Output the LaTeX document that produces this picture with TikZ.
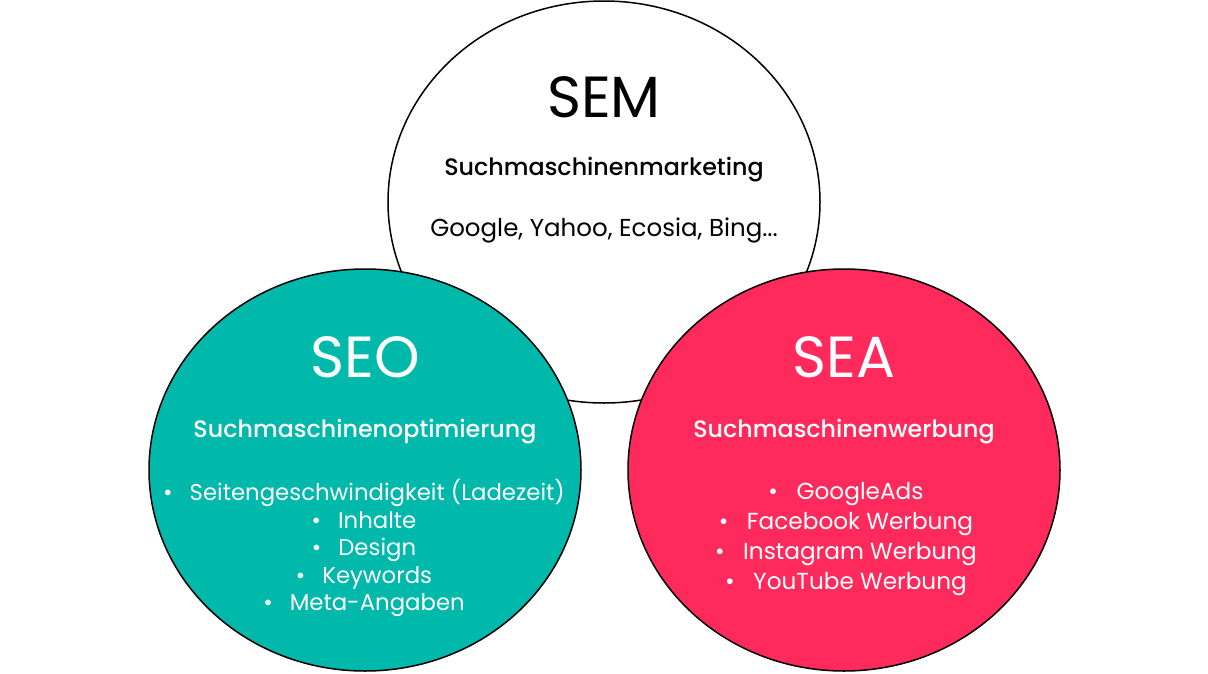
\documentclass[tikz,border=0pt]{standalone}
\usepackage{fontspec}
\setmainfont{Poppins}
\newfontfamily\medfont{Poppins Medium}
\usetikzlibrary{shapes.geometric}

\definecolor{seogreen}{HTML}{00B9AB}
\definecolor{seared}{HTML}{FF2A5C}

\tikzset{
    bubble/.style={ellipse,draw=black,line width=1.5pt,minimum width=432pt,minimum height=402pt},
    head/.style={font=\fontsize{58}{62}\selectfont},
    sub/.style={font=\medfont\fontsize{23.8}{26}\selectfont},
    items/.style={align=center,font=\fontsize{22.8}{27.5}\selectfont}
}

\begin{document}
\begin{tikzpicture}[x=1pt,y=-1pt]
    \useasboundingbox (0,0) rectangle (1208,673);
    % big circle on top
    \node[bubble,fill=white] (sem) at (604,202) {};
    \node[head] (semtitle) at (604,97) {SEM};
    \node[sub] (semsub) at (604,170) {Suchmaschinenmarketing};
    \node[font=\fontsize{24.5}{26}\selectfont] (semlist) at (604,230) {Google, Yahoo, Ecosia, Bing...};
    % the two lower circles
    \node[bubble,fill=seogreen] (seo) at (365,470) {};
    \node[bubble,fill=seared] (sea) at (844,470) {};
    \begin{scope}[text=white]
        \node[head] (seotitle) at (365,357) {SEO};
        \node[sub] (seosub) at (365,432) {Suchmaschinenoptimierung};
        \node[items,anchor=north] (seolist) at (364,476) {%
            \textbullet\hspace{0.75em}Seitengeschwindigkeit (Ladezeit)\\
            \textbullet\hspace{0.75em}Inhalte\\
            \textbullet\hspace{0.75em}Design\\
            \textbullet\hspace{0.75em}Keywords\\
            \textbullet\hspace{0.75em}Meta-Angaben};
        \node[head] (seatitle) at (844,357) {SEA};
        \node[sub] (seasub) at (844,432) {Suchmaschinenwerbung};
        \node[items,font=\fontsize{23.2}{30}\selectfont,anchor=north] (sealist) at (846,479) {%
            \textbullet\hspace{0.8em}GoogleAds\\
            \textbullet\hspace{0.8em}Facebook Werbung\\
            \textbullet\hspace{0.8em}Instagram Werbung\\
            \textbullet\hspace{0.8em}YouTube Werbung};
    \end{scope}
\end{tikzpicture}
\end{document}
